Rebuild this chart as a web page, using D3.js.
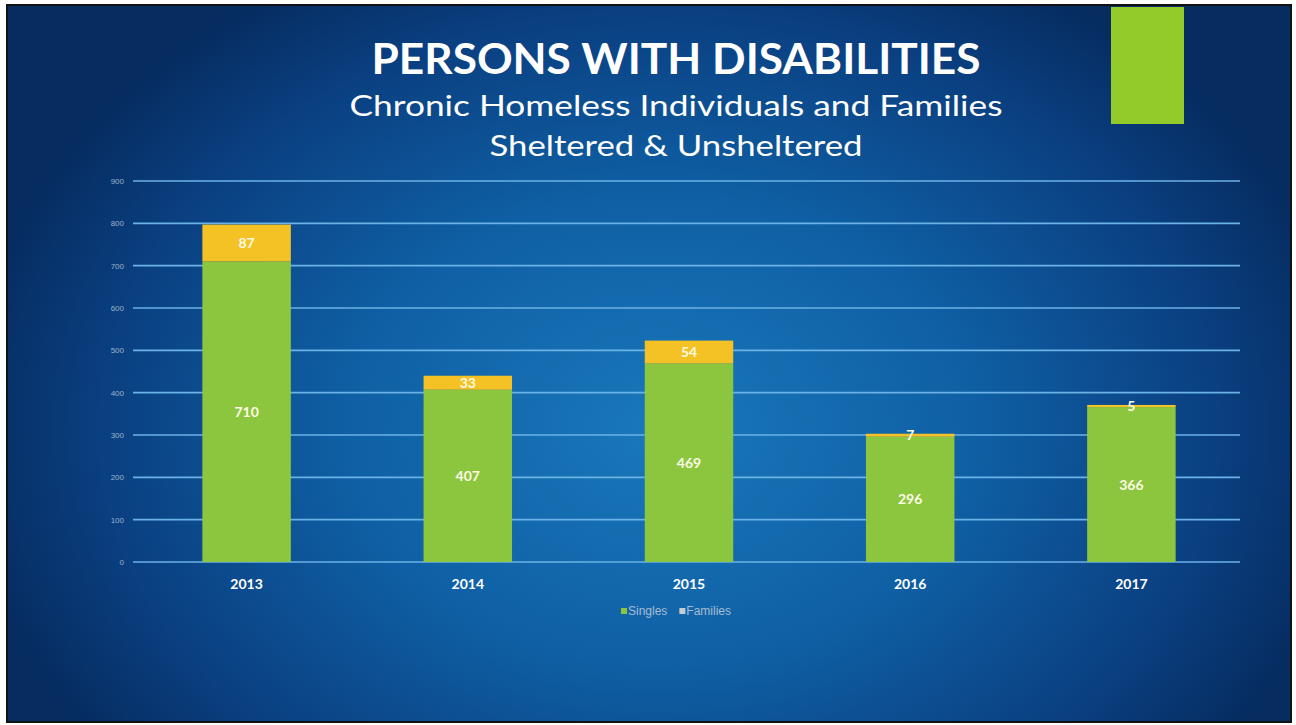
<!DOCTYPE html>
<html>
<head>
<meta charset="utf-8">
<script src="https://cdn.jsdelivr.net/npm/d3@7"></script>
<style>
  body { margin: 0; background: #fff; }
  svg { display: block; }
</style>
</head>
<body>
<svg id="chart" width="1296" height="725"></svg>
<script>
var years = ['2013', '2014', '2015', '2016', '2017'];
var singles = [710, 407, 469, 296, 366];
var families = [87, 33, 54, 7, 5];
var yTicks = [0, 100, 200, 300, 400, 500, 600, 700, 800, 900];
var seriesNames = ['Singles', 'Families'];

var svg = d3.select('#chart');
var defs = svg.append('defs');

var grad = defs.append('radialGradient').attr('id', 'bg')
  .attr('gradientUnits', 'userSpaceOnUse')
  .attr('cx', 660).attr('cy', 430).attr('r', 700)
  .attr('gradientTransform', 'translate(660,430) scale(1,0.75) translate(-660,-430)');
grad.append('stop').attr('offset', '0%').attr('stop-color', '#1a78bb');
grad.append('stop').attr('offset', '45%').attr('stop-color', '#0f5fa4');
grad.append('stop').attr('offset', '80%').attr('stop-color', '#0a3f80');
grad.append('stop').attr('offset', '100%').attr('stop-color', '#062c60');

// slide background
svg.append('rect').attr('x', 7).attr('y', 5).attr('width', 1284).attr('height', 717)
  .attr('fill', 'url(#bg)').attr('stroke', '#111').attr('stroke-width', 2);

// decorative block top right
svg.append('rect').attr('x', 1111).attr('y', 7).attr('width', 73).attr('height', 117)
  .attr('fill', '#93cc2a');

// titles (stretched to the width of the original geometric face)
svg.append('text').attr('x', 676).attr('y', 74).attr('text-anchor', 'middle')
  .attr('textLength', 609).attr('lengthAdjust', 'spacingAndGlyphs')
  .style('font-family', 'Lato').style('font-weight', 'bold').style('font-size', '42px')
  .attr('fill', '#fff').text('PERSONS WITH DISABILITIES');
svg.append('text').attr('x', 676).attr('y', 116).attr('text-anchor', 'middle')
  .attr('textLength', 653).attr('lengthAdjust', 'spacingAndGlyphs')
  .style('font-family', 'Lato').style('font-size', '29px')
  .attr('fill', '#fff').text('Chronic Homeless Individuals and Families');
svg.append('text').attr('x', 676).attr('y', 156).attr('text-anchor', 'middle')
  .attr('textLength', 373).attr('lengthAdjust', 'spacingAndGlyphs')
  .style('font-family', 'Lato').style('font-size', '29px')
  .attr('fill', '#fff').text('Sheltered & Unsheltered');

var x = d3.scaleBand().domain(years).range([136, 1242]).paddingInner(0.6).paddingOuter(0.3);
var y = d3.scaleLinear().domain([0, 900]).range([562, 181]);

// gridlines
svg.append('g').selectAll('line').data(yTicks).enter().append('line')
  .attr('x1', 133).attr('x2', 1240)
  .attr('y1', function(d){ return y(d); }).attr('y2', function(d){ return y(d); })
  .attr('stroke', '#6bb2e6').attr('stroke-width', 1.6);

svg.append('g').selectAll('text').data(yTicks).enter().append('text')
  .attr('x', 124).attr('y', function(d){ return y(d) + 3; })
  .attr('text-anchor', 'end')
  .style('font-family', 'Liberation Sans').style('font-size', '8px')
  .attr('fill', '#9cb4cc').text(function(d){ return d; });

var colors = ['#8cc63e', '#f4c224'];
var stacked = years.map(function(yr, i){ return { year: yr, s: singles[i], f: families[i] }; });

var bars = svg.append('g');
stacked.forEach(function(d){
  bars.append('rect').attr('x', x(d.year)).attr('width', x.bandwidth())
    .attr('y', y(d.s)).attr('height', y(0) - y(d.s)).attr('fill', colors[0]);
  bars.append('rect').attr('x', x(d.year)).attr('width', x.bandwidth())
    .attr('y', y(d.s + d.f)).attr('height', y(d.s) - y(d.s + d.f)).attr('fill', colors[1]);
  bars.append('text').attr('x', x(d.year) + x.bandwidth() / 2).attr('y', y(d.s / 2) + 5)
    .attr('text-anchor', 'middle').style('font-family', 'Lato').style('font-weight', 'bold')
    .style('font-size', '14px').attr('fill', '#fdfbe6').text(d.s);
  bars.append('text').attr('x', x(d.year) + x.bandwidth() / 2).attr('y', y(d.s + d.f / 2) + 5)
    .attr('text-anchor', 'middle').style('font-family', 'Lato').style('font-weight', 'bold')
    .style('font-size', '14px').attr('fill', '#fdfbe6').text(d.f);
});

// x axis labels
svg.append('g').selectAll('text').data(years).enter().append('text')
  .attr('x', function(d){ return x(d) + x.bandwidth() / 2; }).attr('y', 589)
  .attr('text-anchor', 'middle').style('font-family', 'Lato').style('font-weight', 'bold')
  .style('font-size', '14px').attr('fill', '#fff').text(function(d){ return d; });

// legend
var legend = svg.append('g').attr('transform', 'translate(621,615)');
var legendColors = ['#8cc63e', '#c8ccd2'];
var lx = 0;
seriesNames.forEach(function(name, i){
  legend.append('rect').attr('x', lx).attr('y', -7).attr('width', 6).attr('height', 6).attr('fill', legendColors[i]);
  var t = legend.append('text').attr('x', lx + 7).attr('y', 0)
    .style('font-family', 'Liberation Sans Narrow, Liberation Sans').style('font-size', '12px')
    .attr('fill', '#a8bdd2').text(name);
  lx += 7 + t.node().getComputedTextLength() + 12;
});
</script>
</body>
</html>
